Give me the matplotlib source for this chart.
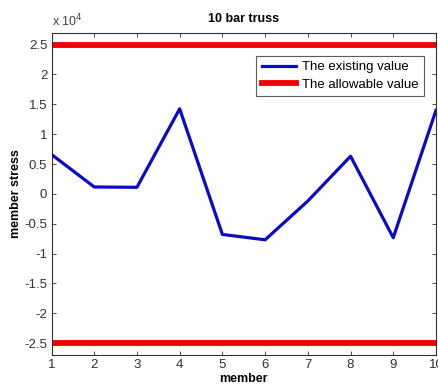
import matplotlib
matplotlib.use("Agg")
import matplotlib.pyplot as plt
from matplotlib.ticker import FuncFormatter, FixedLocator

plt.rcParams['font.family'] = ['Liberation Sans', 'DejaVu Sans']

members = [1, 2, 3, 4, 5, 6, 7, 8, 9, 10]
existing = [6600, 1150, 1100, 14250, -6800, -7700, -1200, 6300, -7350, 14000]
allowable_upper = 25000
allowable_lower = -25000
yticks = [-25000, -20000, -15000, -10000, -5000, 0, 5000, 10000, 15000, 20000, 25000]

fig = plt.figure(figsize=(4.38, 3.85), dpi=100)
ax = fig.add_axes([0.1176, 0.078, 0.8778, 0.837])

ax.plot(members, existing, color='#0a0ac8', lw=2.3, label='The existing value', zorder=3)
ax.plot(members, [allowable_upper] * len(members), color='#f00000', lw=4.2,
        label='The allowable value', zorder=2)
ax.plot(members, [allowable_lower] * len(members), color='#f00000', lw=4.2, zorder=2)

ax.set_xlim(1, 10)
ax.set_ylim(-27000, 27000)
ax.set_xticks(members)
ax.yaxis.set_major_locator(FixedLocator(yticks))
ax.yaxis.set_major_formatter(FuncFormatter(lambda v, p: f"{v/1e4:g}"))

ax.tick_params(direction='in', top=True, right=True, length=3, width=0.6,
               labelsize=9.5, colors='#333333', labelcolor='#333333', pad=3)
for s in ax.spines.values():
    s.set_linewidth(0.8)
    s.set_color('#333333')

ax.text(0.0, 1.012, r'x 10$^4$', transform=ax.transAxes, fontsize=9,
        color='#444444', ha='left', va='bottom')
ax.set_title('10 bar truss', fontsize=9, fontweight='bold', pad=7.5)
ax.set_xlabel('member', fontsize=9, fontweight='bold', labelpad=1)
ax.set_ylabel('member stress', fontsize=9, fontweight='bold', labelpad=2)

leg = ax.legend(loc='upper right', bbox_to_anchor=(0.968, 0.928), fontsize=9.5,
                frameon=True, fancybox=False, edgecolor='#333333',
                handlelength=2.6, handletextpad=0.45, borderpad=0.4,
                labelspacing=0.4, borderaxespad=0)
leg.get_frame().set_linewidth(0.8)

fig.savefig('out.png', dpi=100)
